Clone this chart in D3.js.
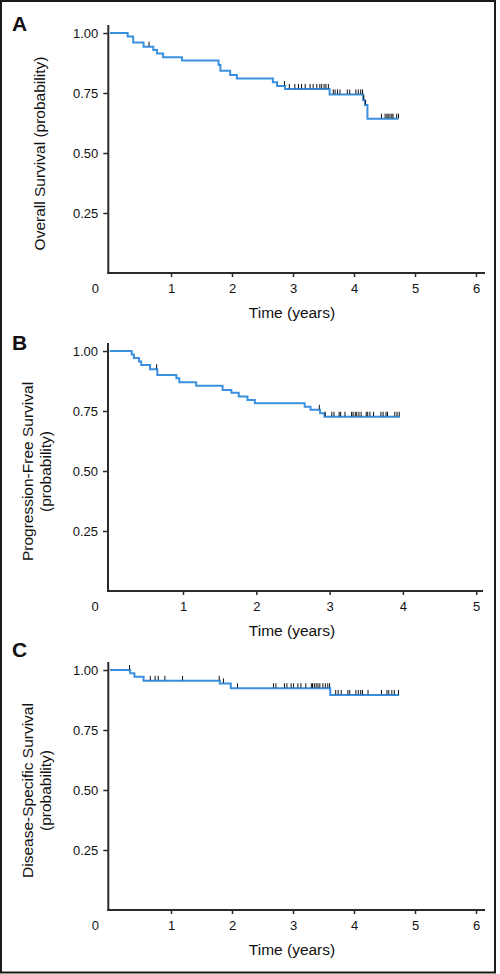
<!DOCTYPE html>
<html><head><meta charset="utf-8">
<script src="https://cdn.jsdelivr.net/npm/d3@7"></script>
<style>
html,body{margin:0;padding:0;background:#fff;}
svg{display:block;font-family:"Liberation Sans",Arial,Helvetica,sans-serif;}
</style></head>
<body>
<script>
// ---- Data ----
const panelLetters = ["A", "B", "C"];
const yTickValues = [0.25, 0.50, 0.75, 1.00];
const xTicksA = [1, 2, 3, 4, 5, 6];
const xTicksB = [1, 2, 3, 4, 5];
const xTicksC = [1, 2, 3, 4, 5, 6];
const yTitles = [
  ["Overall Survival (probability)"],
  ["Progression-Free Survival", "(probability)"],
  ["Disease-Specific Survival", "(probability)"]
];
const xTitle = "Time (years)";

// Panel A: Overall survival (step times, survival)
const stepTimesA = [0, 0.29, 0.38, 0.55, 0.71, 0.77, 0.87, 1.18, 1.78, 1.81, 1.97, 2.08, 2.67, 2.74, 2.87, 3.60, 4.15, 4.18, 4.22];
const survA      = [1.0, 0.985, 0.96, 0.943, 0.929, 0.915, 0.899, 0.885, 0.867, 0.843, 0.825, 0.81, 0.795, 0.779, 0.767, 0.744, 0.72, 0.70, 0.643];
const endA = 4.73;
const censorA = [0.64, 2.86, 2.94, 3.03, 3.09, 3.14, 3.20, 3.28, 3.33, 3.39, 3.44, 3.47, 3.51, 3.54, 3.58, 3.66, 3.69, 3.73, 3.77, 3.89, 3.93, 4.03, 4.07, 4.11, 4.14, 4.16, 4.19, 4.45, 4.51, 4.54, 4.56, 4.59, 4.62, 4.64, 4.70, 4.73];

// Panel B: Progression-free survival
const stepTimesB = [0, 0.30, 0.33, 0.40, 0.43, 0.55, 0.65, 0.91, 0.95, 1.18, 1.54, 1.66, 1.76, 1.88, 1.98, 2.66, 2.74, 2.87, 2.93];
const survB      = [1.0, 0.985, 0.971, 0.956, 0.942, 0.924, 0.90, 0.886, 0.87, 0.855, 0.838, 0.826, 0.81, 0.796, 0.782, 0.768, 0.755, 0.741, 0.726];
const endB = 3.96;
const censorB = [0.64, 2.86, 2.94, 3.03, 3.06, 3.13, 3.15, 3.21, 3.30, 3.32, 3.35, 3.37, 3.40, 3.43, 3.50, 3.52, 3.55, 3.60, 3.70, 3.73, 3.77, 3.79, 3.89, 3.92, 3.95];

// Panel C: Disease-specific survival
const stepTimesC = [0, 0.33, 0.40, 0.55, 1.80, 1.98, 3.61];
const survC      = [1.0, 0.986, 0.972, 0.955, 0.944, 0.924, 0.896];
const endC = 4.74;
const censorC = [0.32, 0.66, 0.74, 0.79, 0.90, 1.19, 1.79, 1.86, 2.09, 2.68, 2.72, 2.86, 2.90, 2.97, 3.01, 3.08, 3.13, 3.21, 3.30, 3.32, 3.35, 3.38, 3.41, 3.44, 3.49, 3.53, 3.57, 3.60, 3.70, 3.74, 3.79, 3.90, 3.93, 4.03, 4.07, 4.11, 4.14, 4.23, 4.45, 4.54, 4.57, 4.62, 4.66, 4.73];

// ---- Layout ----
const W = 500, H = 974;
const svg = d3.select("body").append("svg").attr("width", W).attr("height", H);

svg.append("rect").attr("x", 1).attr("y", 1).attr("width", 494).attr("height", 971.5)
  .attr("fill", "none").attr("stroke", "#1a1a1a").attr("stroke-width", 2);

const panels = [
  {letter: panelLetters[0], letterY: 31, times: stepTimesA, surv: survA, end: endA, censor: censorA,
   xMax: 6, xTicks: xTicksA, xRange: [110, 476], yRange: [273, 33], axisTop: 25, axisRight: 485, titles: yTitles[0]},
  {letter: panelLetters[1], letterY: 350, times: stepTimesB, surv: survB, end: endB, censor: censorB,
   xMax: 5, xTicks: xTicksB, xRange: [109.7, 476.2], yRange: [591, 351], axisTop: 343, axisRight: 483, titles: yTitles[1]},
  {letter: panelLetters[2], letterY: 657, times: stepTimesC, surv: survC, end: endC, censor: censorC,
   xMax: 6, xTicks: xTicksC, xRange: [110, 476], yRange: [910, 670], axisTop: 662, axisRight: 485, titles: yTitles[2]}
];

const axisColor = "#2a2a2a";
const lineColor = "#3a8fde";

panels.forEach(p => {
  const g = svg.append("g");
  const x = d3.scaleLinear().domain([0, p.xMax]).range(p.xRange);
  const y = d3.scaleLinear().domain([0, 1]).range(p.yRange);
  const axisX = x(0) - 1.7;
  const axisY = y(0);

  // panel letter
  g.append("text").attr("x", 12).attr("y", p.letterY).text(p.letter)
    .attr("font-size", 21).attr("font-weight", "bold").attr("fill", "#111");

  // y axis ticks + labels
  const ya = g.append("g").attr("transform", `translate(${axisX},0)`)
    .call(d3.axisLeft(y).tickValues(yTickValues).tickFormat(d3.format(".2f")).tickSize(5).tickPadding(5));
  ya.select(".domain").remove();
  ya.selectAll("line").attr("stroke", axisColor).attr("stroke-width", 1.5);
  ya.selectAll("text").attr("font-size", 13).attr("fill", "#111")
    .attr("font-family", "'Liberation Sans', Arial, sans-serif");

  // x axis ticks + labels
  const xa = g.append("g").attr("transform", `translate(0,${axisY})`)
    .call(d3.axisBottom(x).tickValues(p.xTicks).tickFormat(d3.format("d")).tickSize(4).tickPadding(7));
  xa.select(".domain").remove();
  xa.selectAll("line").attr("stroke", axisColor).attr("stroke-width", 1.5);
  xa.selectAll("text").attr("font-size", 13).attr("fill", "#111")
    .attr("font-family", "'Liberation Sans', Arial, sans-serif");
  g.append("text").attr("x", axisX - 13).attr("y", axisY + 20).attr("text-anchor", "middle")
    .attr("font-size", 13).attr("fill", "#111").text("0");

  // axis lines
  g.append("line").attr("x1", axisX).attr("x2", axisX).attr("y1", p.axisTop).attr("y2", axisY + 1)
    .attr("stroke", axisColor).attr("stroke-width", 2);
  g.append("line").attr("x1", axisX - 1).attr("x2", p.axisRight).attr("y1", axisY).attr("y2", axisY)
    .attr("stroke", axisColor).attr("stroke-width", 2);

  // titles
  const midX = (x(0) + x(p.xMax)) / 2;
  g.append("text").attr("x", 292).attr("y", axisY + 45).attr("text-anchor", "middle")
    .attr("font-size", 15.5).attr("fill", "#111").text(xTitle);

  const midY = y(0.5) + 0.5;
  if (p.titles.length === 1) {
    g.append("text").attr("transform", `translate(45,${midY}) rotate(-90)`).attr("text-anchor", "middle")
      .attr("font-size", 15.5).attr("fill", "#111").text(p.titles[0]);
  } else {
    p.titles.forEach((t, i) => {
      g.append("text").attr("transform", `translate(${33 + i * 18},${midY}) rotate(-90)`).attr("text-anchor", "middle")
        .attr("font-size", 15.5).attr("fill", "#111").text(t);
    });
  }

  // KM curve
  const pts = p.times.map((t, i) => [t, p.surv[i]]);
  pts.push([p.end, p.surv[p.surv.length - 1]]);
  const line = d3.line().x(d => x(d[0])).y(d => y(d[1])).curve(d3.curveStepAfter);
  g.append("path").attr("d", line(pts)).attr("fill", "none")
    .attr("stroke", lineColor).attr("stroke-width", 2);

  // censor marks
  const survAt = t => {
    let s = p.surv[0];
    for (let i = 0; i < p.times.length; i++) if (p.times[i] <= t) s = p.surv[i];
    return s;
  };
  g.selectAll(".cens").data(p.censor).enter().append("line")
    .attr("x1", d => x(d)).attr("x2", d => x(d))
    .attr("y1", d => y(survAt(d)) - 5).attr("y2", d => y(survAt(d)) - 0.5)
    .attr("stroke", "#111").attr("stroke-width", 1);
});
</script>
</body></html>
